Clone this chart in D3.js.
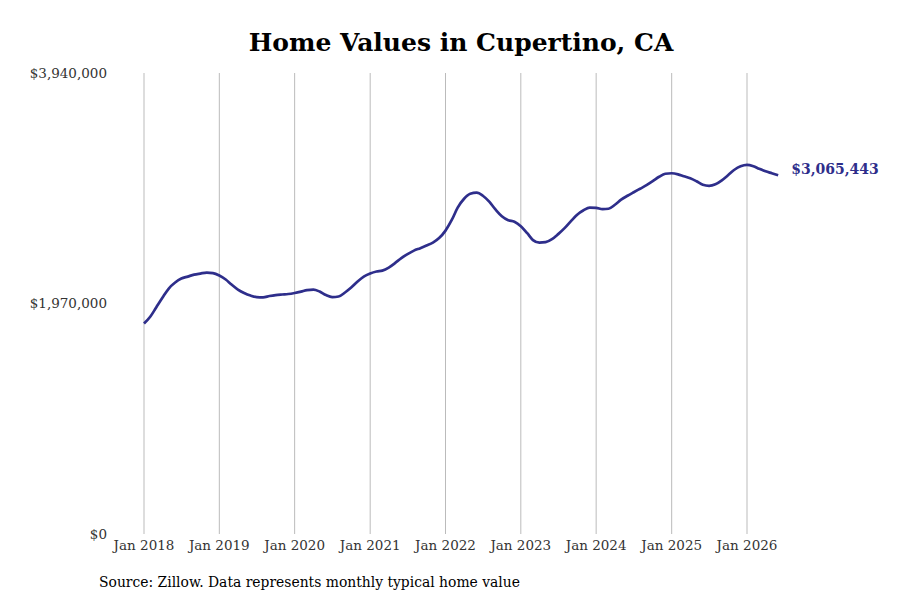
<!DOCTYPE html>
<html lang="en">
<head>
<meta charset="UTF-8">
<title>Home Values in Cupertino, CA</title>
<script src="https://cdn.jsdelivr.net/npm/d3@7"></script>
<style>
  body { margin: 0; background: #fff; }
  svg { font-family: "DejaVu Serif", serif; }
</style>
</head>
<body>
<svg width="900" height="600"></svg>
<script>
    // monthly typical home value, Jan 2018 .. Jun 2026
    const startMonth = "2018-01";
    const values = [
        1799000, 1859000, 1936000, 2021000, 2098000, 2149000, 2183000, 2200000, 2217000, 2226000, 2234000, 2230000,
        2209000, 2175000, 2132000, 2089000, 2060000, 2038000, 2025000, 2023000, 2034000, 2042000, 2047000, 2051000,
        2060000, 2072000, 2085000, 2089000, 2072000, 2042000, 2025000, 2030000, 2064000, 2106000, 2158000, 2200000,
        2226000, 2243000, 2251000, 2277000, 2315000, 2358000, 2392000, 2422000, 2443000, 2465000, 2490000, 2529000,
        2593000, 2686000, 2789000, 2865000, 2908000, 2917000, 2891000, 2840000, 2772000, 2716000, 2682000, 2669000,
        2631000, 2571000, 2512000, 2490000, 2494000, 2520000, 2563000, 2614000, 2674000, 2729000, 2767000, 2789000,
        2787000, 2776000, 2780000, 2814000, 2857000, 2891000, 2921000, 2951000, 2981000, 3015000, 3053000, 3079000,
        3083000, 3074000, 3057000, 3040000, 3015000, 2985000, 2976000, 2989000, 3023000, 3066000, 3113000, 3143000,
        3155000, 3143000, 3121000, 3100000, 3083000, 3065443
    ];
    const yTicks = [0, 1970000, 3940000];
    const xTickYears = [2018, 2019, 2020, 2021, 2022, 2023, 2024, 2025, 2026];
    const title = "Home Values in Cupertino, CA";
    const source = "Source: Zillow. Data represents monthly typical home value";

    const parseMonth = d3.timeParse("%Y-%m");
    const t0 = parseMonth(startMonth);
    const data = values.map((v, i) => ({date: d3.timeMonth.offset(t0, i), value: v}));

    const svg = d3.select("svg");
    const margin = {top: 73, left: 144, bottom: 534, right: 747};

    const x = d3.scaleTime()
        .domain([new Date(2018, 0, 1), new Date(2026, 0, 1)])
        .range([margin.left, margin.right]);
    const y = d3.scaleLinear()
        .domain([0, 3940000])
        .range([margin.bottom, margin.top]);

    svg.append("text")
        .attr("x", 461)
        .attr("y", 51)
        .attr("text-anchor", "middle")
        .attr("font-size", 25)
        .attr("font-weight", "bold")
        .attr("fill", "#000")
        .text(title);

    // vertical grid
    svg.append("g")
        .selectAll("line")
        .data(xTickYears)
        .join("line")
        .attr("x1", d => x(new Date(d, 0, 1)))
        .attr("x2", d => x(new Date(d, 0, 1)))
        .attr("y1", margin.top)
        .attr("y2", margin.bottom)
        .attr("stroke", "#bbb")
        .attr("stroke-width", 1);

    svg.append("g")
        .selectAll("text")
        .data(xTickYears)
        .join("text")
        .attr("x", d => x(new Date(d, 0, 1)))
        .attr("y", 550)
        .attr("text-anchor", "middle")
        .attr("font-size", 13.5)
        .attr("fill", "#333")
        .text(d => d3.timeFormat("%b %Y")(new Date(d, 0, 1)));

    svg.append("g")
        .selectAll("text")
        .data(yTicks)
        .join("text")
        .attr("x", 107)
        .attr("y", d => y(d))
        .attr("dy", "0.35em")
        .attr("text-anchor", "end")
        .attr("font-size", 13.5)
        .attr("fill", "#333")
        .text(d => d3.format("$,")(d));

    const line = d3.line()
        .x(d => x(d.date))
        .y(d => y(d.value))
        .curve(d3.curveMonotoneX);

    svg.append("path")
        .datum(data)
        .attr("fill", "none")
        .attr("stroke", "#2e2e8b")
        .attr("stroke-width", 2.7)
        .attr("stroke-linejoin", "round")
        .attr("d", line);

    const last = data[data.length - 1];
    svg.append("text")
        .attr("x", x(last.date) + 13)
        .attr("y", y(last.value) - 6)
        .attr("dy", "0.35em")
        .attr("font-size", 14)
        .attr("font-weight", "bold")
        .attr("fill", "#2e2e8b")
        .text(d3.format("$,")(Math.round(last.value)));

    svg.append("text")
        .attr("x", 99)
        .attr("y", 587)
        .attr("font-size", 13.9)
        .attr("fill", "#000")
        .text(source);
</script>
</body>
</html>
